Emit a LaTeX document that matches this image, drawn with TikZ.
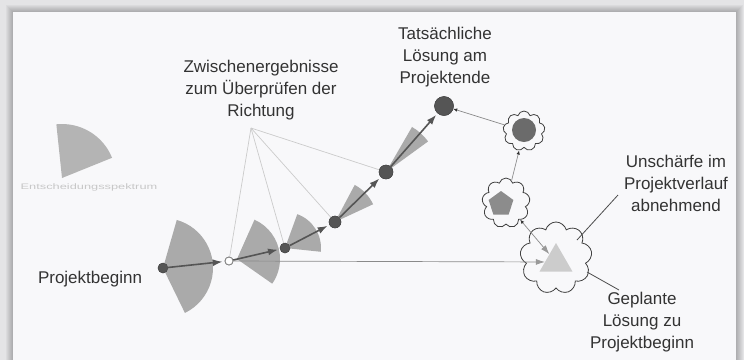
\documentclass[tikz,border=0pt]{standalone}
\usepackage{fontspec}
\setmainfont{Liberation Sans}
\usetikzlibrary{shapes.symbols,shapes.geometric,arrows.meta}
\definecolor{paper}{HTML}{F8F8FA}
\definecolor{outer}{HTML}{E4E4E6}
\definecolor{fancol}{HTML}{AAAAAA}
\definecolor{fanleft}{HTML}{B4B4B4}
\definecolor{dotcol}{HTML}{555555}
\definecolor{thincol}{HTML}{CBCBCB}
\definecolor{txt}{HTML}{333333}
\definecolor{gline}{HTML}{8A8A8A}
\tikzset{
  lbl/.style={font=\fontsize{17}{22}\selectfont, text=txt, align=center, inner sep=0pt},
  fan/.style={fill=fancol},
  dotn/.style={circle, fill=dotcol, draw=dotcol!85!black, inner sep=0pt},
  odot/.style={circle, fill=white, draw=gray, line width=0.8pt, inner sep=0pt},
  thinl/.style={draw=thincol, line width=0.7pt},
  flow/.style={draw=dotcol, line width=1.6pt, shorten >=2pt, -{Latex[length=10pt,width=7pt]}},
  cloudn/.style={cloud, cloud puffs=9, draw=black!75, line width=0.8pt, inner sep=0pt, aspect=1},
  glink/.style={draw=gline, line width=0.7pt},
  leader/.style={draw=black!70, line width=0.8pt},
}
\begin{document}
\begin{tikzpicture}[x=1pt,y=-1pt]
\useasboundingbox (0,0) rectangle (744,360);
% background and paper with shadow
\fill[outer] (0,0) rectangle (744,360);
\foreach \i in {1,...,7} {\fill[black, opacity=0.035] (13-\i,12-\i) rectangle (736+\i,360);}
\fill[paper] (13,12) rectangle (736,360);

% decision spectrum legend
\fill[fanleft] (62,178) -- ++(-96:54) arc[start angle=-96, end angle=-22, radius=54] -- cycle;
\node[font=\fontsize{8}{9}\selectfont, text=black!22, xscale=1.6, inner sep=0pt] (es) at (89,187) {Entscheidungsspektrum};

% dots (positions)
\node[dotn, minimum size=10pt] (d0) at (163,268) {};
\node[odot, minimum size=8pt] (d1) at (229,261) {};
\node[dotn, minimum size=10pt] (d2) at (285,248) {};
\node[dotn, minimum size=12pt] (d3) at (335,222) {};
\node[dotn, minimum size=14pt] (d4) at (386,172) {};
\node[dotn, minimum size=19pt] (d5) at (444,106) {};

% fans
\fill[fan] (d0.center) -- ++(-74:50) arc[start angle=-74, end angle=64, radius=50] -- cycle;
\fill[fan] (237,259) -- ++(-66:43) arc[start angle=-66, end angle=35, radius=43] -- cycle;
\fill[fan] (d2.center) -- ++(-70:36) arc[start angle=-70, end angle=6, radius=36] -- cycle;
\fill[fan] (d3.center) -- ++(-62:42) arc[start angle=-62, end angle=-25, radius=42] -- cycle;
\fill[fan] (d4.center) -- ++(-60:52) arc[start angle=-60, end angle=-36, radius=52] -- cycle;

% labels
\node[lbl] (tz) at (445,57) {Tatsächliche\\Lösung am\\Projektende};
\node[lbl] (zw) at (261,90) {Zwischenergebnisse\\zum Überprüfen der\\Richtung};
\node[lbl] (pb) at (90,279) {Projektbeginn};
\node[lbl] (un) at (676,183) {Unschärfe im\\Projektverlauf\\abnehmend};
\node[lbl] (gp) at (642,322) {Geplante\\Lösung zu\\Projektbeginn};

% converging thin lines
\coordinate (zc) at (251,128);
\draw[thinl] (zc) -- (d1);
\draw[thinl] (zc) -- (d2);
\draw[thinl] (zc) -- (d3);
\draw[thinl] (zc) -- (d4);

% clouds and their contents
\node[cloudn, minimum width=72pt, minimum height=72pt] (c1) at (556,258) {};
\node[cloudn, minimum width=48pt, minimum height=50pt] (c2) at (506,203) {};
\node[cloudn, minimum width=42pt, minimum height=40pt] (c3) at (524,131) {};
\node[regular polygon, regular polygon sides=3, fill=black!20, minimum size=38pt, inner sep=0pt] (tri) at (556,262) {};
\node[regular polygon, regular polygon sides=5, fill=black!45, minimum size=26pt, inner sep=0pt] (pent) at (501,204) {};
\node[circle, fill=black!58, minimum size=24pt, inner sep=0pt] (circ) at (524,130) {};

% planned line
\draw[glink, -{Latex[length=9pt,width=6pt,color=black!40]}] (d1) -- (tri);

% main path
\draw[flow] (d0) -- (d1);
\draw[flow] (d1) -- (d2);
\draw[flow] (d2) -- (d3);
\draw[flow] (d3) -- (d4);
\draw[flow] (d4) -- (d5);
% redraw dots on top
\node[dotn, minimum size=10pt] at (d0) {};
\node[odot, minimum size=8pt] at (d1) {};
\node[dotn, minimum size=10pt] at (d2) {};
\node[dotn, minimum size=12pt] at (d3) {};
\node[dotn, minimum size=14pt] at (d4) {};
\node[dotn, minimum size=19pt] at (d5) {};

% cloud links
\draw[glink, -{Latex[length=4pt,width=3.5pt,color=black!80]}] (c3) -- (d5);
\draw[glink, -{Latex[length=4pt,width=3.5pt,color=black!80]}] (c2) -- (c3);
\draw[glink, {Latex[length=4pt,width=3.5pt,color=black!80]}-{Latex[length=9pt,width=6pt,color=black!40]}] (c2) -- (tri);

% leaders
\coordinate (ua) at (618,195);
\coordinate (ub) at (577,240);
\draw[leader] (ua) -- (ub);
\coordinate (ga) at (587,272);
\coordinate (gb) at (619,290);
\draw[leader] (ga) -- (gb);
\end{tikzpicture}
\end{document}
